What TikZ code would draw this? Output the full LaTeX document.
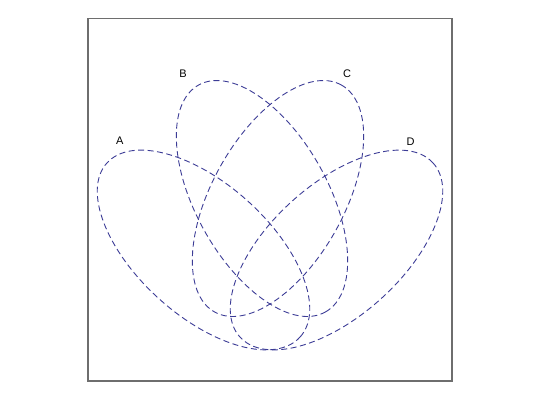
\documentclass[tikz,border=0pt]{standalone}
\usepackage{fontspec}
\setmainfont{Liberation Sans}
\definecolor{vennblue}{RGB}{60,60,150}
\definecolor{framegray}{RGB}{110,110,110}
\tikzset{
  vennset/.style={draw=vennblue, line width=0.9pt, dash pattern=on 6pt off 3.5pt},
  setlabel/.style={font=\fontsize{11}{13}\selectfont, inner sep=0pt},
  frame/.style={draw=framegray, line width=1.1pt}
}
\begin{document}
\begin{tikzpicture}[x=1pt,y=1pt]
\useasboundingbox (0,0) rectangle (540,400);
\draw[frame] (88,400-18.5) rectangle (452,400-381);
% ellipses (pixel coordinates, y flipped)
\draw[vennset, rotate around={-42:(203.5,150)}] (203.5,150) ellipse [x radius=130, y radius=66];
\draw[vennset, rotate around={-60.8:(262,201.5)}] (262,201.5) ellipse [x radius=130, y radius=66];
\draw[vennset, rotate around={60.8:(278,201.5)}] (278,201.5) ellipse [x radius=130, y radius=66];
\draw[vennset, rotate around={42:(336.5,150)}] (336.5,150) ellipse [x radius=130, y radius=66];
\node[setlabel] (la) at (119.7,400-140.5) {A};
\node[setlabel] (lb) at (183,400-73.5) {B};
\node[setlabel] (lc) at (347,400-73.5) {C};
\node[setlabel] (ld) at (410.5,400-141.5) {D};
\end{tikzpicture}
\end{document}
